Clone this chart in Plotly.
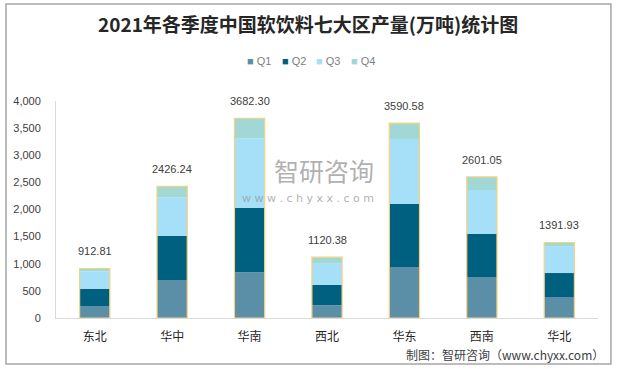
import plotly.graph_objects as go

regions = ["东北", "华中", "华南", "西北", "华东", "西南", "华北"]
totals = [912.81, 2426.24, 3682.30, 1120.38, 3590.58, 2601.05, 1391.93]
q1 = [221, 700, 842, 234, 940, 756, 387]
q2 = [319, 817, 1191, 374, 1161, 792, 442]
q3 = [321, 701, 1279, 393, 1199, 811, 485]
q4 = [round(t - a - b - c, 2) for t, a, b, c in zip(totals, q1, q2, q3)]
series_names = ["Q1", "Q2", "Q3", "Q4"]
series_values = [q1, q2, q3, q4]
colors = ["#5B8FA8", "#00607F", "#A6E0F8", "#A1D8D6"]
y_ticks = [0, 500, 1000, 1500, 2000, 2500, 3000, 3500, 4000]

fig = go.Figure()
base = [0] * len(regions)
for name, vals, col in zip(series_names, series_values, colors):
    fig.add_trace(go.Bar(x=regions, y=vals, base=list(base), name=name,
                         marker=dict(color=col, line=dict(width=0)),
                         showlegend=False, hoverinfo="skip"))
    base = [b + v for b, v in zip(base, vals)]

# outline of whole stacked bar
fig.add_trace(go.Bar(x=regions, y=totals, base=[0] * len(regions),
                     marker=dict(color="rgba(0,0,0,0)", line=dict(color="#F7D27C", width=1.2)),
                     showlegend=False, hoverinfo="skip"))

annotations = []
for r, t in zip(regions, totals):
    annotations.append(dict(x=r, y=t, xref="x", yref="y", text=f"{t:.2f}", showarrow=False,
                            yanchor="bottom", yshift=9,
                            font=dict(family="Liberation Sans, Arial", size=11, color="#404040")))

# custom legend
PL, PR, PT, PB = 55.5, 597.6, 101, 318
pw, ph = PR - PL, PB - PT
def px(x):
    return (x - PL) / pw
def py(y):
    return (PB - y) / ph

leg_x = [245, 280, 314, 349]
for name, col, lx in zip(series_names, colors, leg_x):
    annotations.append(dict(x=px(lx), y=py(61), xref="paper", yref="paper", xanchor="left",
                            yanchor="middle", showarrow=False,
                            text=f'<span style="color:{col}">■</span> {name}',
                            font=dict(family="Liberation Sans, Arial", size=11, color="#7F7F7F")))

# title
annotations.append(dict(x=px(308), y=py(23), xref="paper", yref="paper", xanchor="center",
                        yanchor="middle", showarrow=False,
                        text="2021年各季度中国软饮料七大区产量(万吨)统计图",
                        font=dict(family="Noto Sans CJK SC", size=19, color="#262626", weight="bold")))
# footer
annotations.append(dict(x=px(606), y=py(354), xref="paper", yref="paper", xanchor="right",
                        yanchor="middle", showarrow=False,
                        text="制图：智研咨询（www.chyxx.com）",
                        font=dict(family="Noto Sans CJK SC", size=12, color="#404040")))
# watermark
annotations.append(dict(x=px(324), y=py(190), xref="paper", yref="paper", xanchor="center",
                        yanchor="bottom", showarrow=False, text="智研咨询",
                        font=dict(family="Noto Sans CJK SC", size=25, color="rgba(150,150,150,0.75)")))
annotations.append(dict(x=px(308), y=py(190), xref="paper", yref="paper", xanchor="center",
                        yanchor="top", showarrow=False, text="w w w . c h y x x . c o m",
                        font=dict(family="DejaVu Sans", size=11, color="rgba(150,150,150,0.75)")))

shapes = [dict(type="rect", xref="paper", yref="paper",
               x0=px(5.5), x1=px(610.5), y0=py(364), y1=py(4),
               line=dict(color="#A6A6A6", width=1.5), fillcolor="rgba(0,0,0,0)", layer="below")]

fig.update_layout(
    width=617, height=369,
    margin=dict(l=PL, r=617 - PR, t=PT, b=369 - PB, pad=0),
    paper_bgcolor="white", plot_bgcolor="white",
    barmode="overlay", bargap=0.61,
    annotations=annotations, shapes=shapes,
    showlegend=False,
    xaxis=dict(showgrid=False, showline=True, linecolor="#D9D9D9", linewidth=1,
               ticks="", tickfont=dict(family="Noto Sans CJK SC", size=12, color="#262626"),
               ticklabelstandoff=8, fixedrange=True),
    yaxis=dict(range=[0, 4000], tickvals=y_ticks, tickformat=",", showgrid=False,
               showline=True, linecolor="#D9D9D9", linewidth=1, ticks="",
               tickfont=dict(family="Liberation Sans, Arial", size=11, color="#404040"),
               ticklabelstandoff=12, zeroline=False, fixedrange=True),
)

fig.write_html("out.html", config={"displayModeBar": False},
               post_script="document.body.style.margin='0';")
